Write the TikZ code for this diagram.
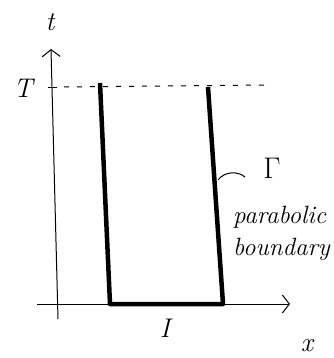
\documentclass[tikz,border=0pt]{standalone}
\usepackage{tikz}
\usetikzlibrary{arrows.meta}

\begin{document}
\begin{tikzpicture}[
  x=1pt,y=-1pt,
  axis/.style={line width=1pt,-{Straight Barb[length=7pt,width=18pt,line width=1pt]}},
  bdry/.style={line width=4.5pt,line join=round},
  lbl/.style={font=\fontsize{27}{30}\selectfont\itshape,inner sep=0pt},
  note/.style={font=\fontsize{25}{32}\selectfont\itshape,inner sep=0pt,align=left,anchor=west},
]
\useasboundingbox (0,0) rectangle (333,358);
% axes
\coordinate (o) at (58,304);
\coordinate (tbot) at (58,319);
\coordinate (ttop) at (51,49);
\coordinate (xleft) at (37,304);
\coordinate (xright) at (290,304);
\draw[axis] (tbot) -- (ttop);
\draw[axis] (xleft) -- (xright);
\node[lbl] (tlbl) at (50,22) {t};
\node[lbl] (xlbl) at (307,346) {x};
% final time
\coordinate (tick1) at (48,88);
\coordinate (tick2) at (57,88);
\coordinate (dashl) at (64,87);
\coordinate (dashr) at (267,85);
\draw[line width=1pt] (tick1) -- (tick2);
\draw[line width=1pt,dash pattern=on 5pt off 8pt] (dashl) -- (dashr);
\node[lbl] (Tlbl) at (23,88) {T};
% parabolic boundary
\coordinate (a) at (100,83);
\coordinate (b) at (110,304);
\coordinate (c) at (223,304);
\coordinate (d) at (208,87);
\draw[bdry] (a) -- (b) -- (c) -- (d);
\node[lbl] (Ilbl) at (165,328) {I};
\coordinate (gfoot) at (218,180);
\coordinate (gend) at (245,177);
\draw[line width=1pt] (gfoot) .. controls (225,171) and (238,171) .. (gend);
\node[lbl] (Glbl) at (272,168) {\scalebox{1.2}{$\Gamma$}};
\node[note] (pb) at (233,233) {parabolic\\boundary};
\end{tikzpicture}
\end{document}
